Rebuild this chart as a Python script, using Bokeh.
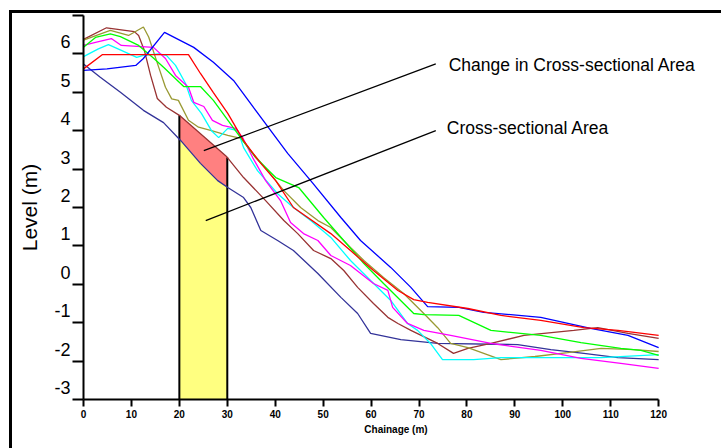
import numpy as np
from bokeh.plotting import figure
from bokeh.models import Range1d, FixedTicker, Label, LinearAxis
from bokeh.embed import file_html
from bokeh.resources import INLINE

# ---------------- data ----------------
x_ticks = [0, 10, 20, 30, 40, 50, 60, 70, 80, 90, 100, 110, 120]
y_ticks = [-3, -2, -1, 0, 1, 2, 3, 4, 5, 6, 7]
y_label_ticks = [-3, -2, -1, 0, 1, 2, 3, 4, 5, 6]
y_label_text = ["-3", "-2", "-1", "0", "1", "2", "3", "4", "5", "6"]

blue_x = [0, 4.9, 10.9, 12.5, 16.9, 23.0, 27.1, 31.3, 35.5, 38.6, 42.6, 47.4, 53.7, 57.8, 64.1, 68.3, 71.8, 78.3, 83.5, 95.4, 105.8, 113.6, 120]
blue_y = [5.57, 5.61, 5.70, 5.88, 6.56, 6.17, 5.78, 5.31, 4.60, 4.08, 3.41, 2.70, 1.74, 1.14, 0.44, -0.08, -0.58, -0.60, -0.73, -0.86, -1.15, -1.33, -1.65]

red_x = [0, 3.9, 21.9, 24.4, 27.1, 30.1, 33.4, 36.5, 40.1, 43.8, 51.6, 55.7, 60.5, 65.6, 68.9, 71.8, 80.2, 87.1, 95.4, 104.4, 111.5, 120]
red_y = [5.61, 5.98, 5.98, 5.49, 4.99, 4.45, 3.74, 3.22, 2.70, 2.00, 1.32, 0.88, 0.36, -0.16, -0.40, -0.47, -0.63, -0.81, -0.94, -1.13, -1.20, -1.33]

green_x = [0, 2.5, 5.6, 7.7, 11.5, 14.4, 16.7, 20.9, 24.4, 27.1, 31.7, 35.9, 40.1, 44.9, 50.1, 54.3, 58.5, 62.6, 68.9, 71.0, 78.3, 85.0, 95.4, 103.8, 112.1, 116.3, 120]
green_y = [6.17, 6.43, 6.52, 6.45, 6.22, 5.91, 5.65, 5.15, 5.15, 4.79, 4.00, 3.30, 2.78, 2.52, 1.74, 1.14, 0.54, 0.02, -0.76, -0.79, -0.81, -1.20, -1.33, -1.52, -1.67, -1.72, -1.85]

magenta_x = [0, 2.5, 5.8, 7.9, 14.6, 17.1, 19.2, 21.9, 23.0, 25.1, 26.9, 29.0, 31.7, 33.2, 35.3, 38.0, 41.1, 43.2, 45.9, 48.9, 51.6, 55.7, 60.5, 63.5, 64.5, 67.6, 71.0, 76.6, 85.0, 95.4, 103.8, 112.1, 120]
magenta_y = [6.22, 6.30, 6.40, 6.22, 6.17, 5.88, 5.44, 5.13, 4.74, 4.63, 4.27, 4.14, 4.06, 3.82, 3.30, 2.70, 2.18, 1.61, 1.32, 1.14, 0.75, 0.49, 0.02, -0.16, -0.60, -1.02, -1.20, -1.33, -1.54, -1.72, -1.93, -2.06, -2.19]

cyan_x = [0, 3.1, 5.2, 7.9, 11.1, 12.5, 15.7, 17.3, 19.2, 21.3, 22.5, 24.6, 26.7, 28.2, 30.1, 32.2, 33.4, 36.3, 40.5, 43.8, 47.4, 51.6, 55.7, 59.9, 64.1, 67.6, 69.7, 72.4, 74.9, 81.4, 87.1, 108.0, 120]
cyan_y = [5.93, 6.13, 6.24, 6.09, 5.91, 5.96, 6.00, 5.96, 5.70, 5.23, 4.79, 4.45, 4.00, 3.82, 4.06, 4.00, 3.56, 2.96, 2.36, 2.00, 1.66, 1.22, 0.62, 0.10, -0.42, -1.02, -1.20, -1.54, -1.96, -1.96, -1.91, -1.91, -1.83]

olive_x = [0, 5.6, 9.4, 12.5, 13.6, 15.7, 17.1, 18.4, 19.8, 21.9, 24.0, 26.7, 30.1, 32.8, 34.9, 38.4, 41.8, 45.3, 48.9, 51.6, 55.7, 58.5, 62.6, 66.8, 71.0, 73.9, 76.6, 80.2, 87.1, 94.2, 101.0, 108.0, 114.8, 120]
olive_y = [6.36, 6.61, 6.48, 6.70, 6.44, 5.65, 5.13, 4.83, 4.79, 4.27, 4.09, 4.00, 3.88, 3.80, 3.48, 2.96, 2.44, 2.00, 1.66, 1.48, 0.96, 0.62, 0.18, -0.24, -0.76, -1.13, -1.54, -1.65, -1.96, -1.88, -1.78, -1.67, -1.70, -1.75]

brown_x = [0, 4.8, 10.6, 11.5, 12.7, 14.0, 15.4, 17.3, 20.0, 29.9, 33.4, 38.0, 41.8, 44.7, 48.0, 51.6, 54.3, 57.2, 60.5, 63.5, 65.6, 68.3, 73.9, 77.2, 80.2, 85.0, 91.9, 102.3, 107.3, 113.6, 120]
brown_y = [6.38, 6.68, 6.58, 6.48, 6.09, 5.44, 4.84, 4.61, 4.40, 3.32, 2.78, 2.18, 1.66, 1.32, 0.88, 0.67, 0.36, -0.08, -0.50, -0.86, -1.02, -1.20, -1.54, -1.80, -1.67, -1.54, -1.33, -1.20, -1.13, -1.28, -1.41]

navy_x = [0, 3.5, 7.7, 12.5, 16.7, 20.3, 24.4, 28.0, 30.1, 33.4, 34.9, 37.0, 40.5, 43.8, 48.9, 53.7, 57.2, 59.9, 66.2, 73.9, 90.6, 97.5, 104.4, 111.5, 120]
navy_y = [5.74, 5.39, 5.00, 4.53, 4.21, 3.74, 3.15, 2.70, 2.52, 2.26, 2.00, 1.40, 1.14, 0.88, 0.28, -0.34, -0.76, -1.28, -1.44, -1.54, -1.57, -1.70, -1.80, -1.91, -1.96]

section_from, section_to = 20, 30
label_change = "Change in Cross-sectional Area"
label_area = "Cross-sectional Area"

# ---------------- figure ----------------
X_END = 130.4          # frame extends beyond 120 so the callout texts fit
LBL_SHIFT = 0.3125     # y tick labels sit ~12px above their ticks (as in the reference)

p = figure(frame_width=625, frame_height=384,
           x_range=Range1d(0, X_END), y_range=Range1d(-3, 7),
           output_backend="svg", toolbar_location=None,
           min_border_left=71, min_border_top=2, min_border_right=13, min_border_bottom=49,
           background_fill_color="white", border_fill_color="white")
p.styles = {"border-left": "3px solid black", "border-top": "3px solid black",
            "margin-left": "9px", "margin-top": "10px"}
p.outline_line_color = None
p.grid.visible = False
p.extra_y_ranges = {"lbl": Range1d(-3 - LBL_SHIFT, 7 - LBL_SHIFT)}

# fills (cross-section and change)
xs = sorted(set([section_from, section_to] +
                [v for v in navy_x + brown_x if section_from < v < section_to]))
xs = np.array(xs, dtype=float)
navy_i = np.interp(xs, navy_x, navy_y)
brown_i = np.interp(xs, brown_x, brown_y)
p.varea(x=xs, y1=-3, y2=navy_i, fill_color="#FFFF80")
p.varea(x=xs, y1=navy_i, y2=brown_i, fill_color="#FF8080")
p.segment(x0=[section_from, section_to], y0=[-3, -3],
          x1=[section_from, section_to],
          y1=[float(np.interp(section_from, brown_x, brown_y)), float(np.interp(section_to, brown_x, brown_y))],
          line_color="black", line_width=2)

lw = 1.3
p.line(navy_x, navy_y, line_color="#333399", line_width=lw)
p.line(brown_x, brown_y, line_color="#993333", line_width=lw)
p.line(olive_x, olive_y, line_color="#999933", line_width=lw)
p.line(cyan_x, cyan_y, line_color="#00FFFF", line_width=lw)
p.line(magenta_x, magenta_y, line_color="#FF00FF", line_width=lw)
p.line(green_x, green_y, line_color="#00FF00", line_width=lw)
p.line(blue_x, blue_y, line_color="#0000FF", line_width=lw)
p.line(red_x, red_y, line_color="#FF0000", line_width=lw)

# annotation pointers
p.segment(x0=[25.1, 25.5], y0=[3.48, 1.66], x1=[73.5, 73.5], y1=[5.74, 4.0],
          line_color="black", line_width=1.3)
for txt, tx, ty in [(label_change, 76.2, 5.70), (label_area, 75.8, 4.06)]:
    p.add_layout(Label(x=tx, y=ty, text=txt, text_font="Liberation Sans",
                       text_font_size="17.5px", text_baseline="middle",
                       text_align="left", text_color="black"))

# x axis
xa = p.xaxis[0]
xa.bounds = (0, 120)
xa.ticker = FixedTicker(ticks=x_ticks)
xa.axis_label = "Chainage (m)"
xa.axis_label_text_font = "Liberation Sans"
xa.axis_label_text_font_size = "10px"
xa.axis_label_text_font_style = "bold"
xa.axis_label_text_color = "black"
xa.axis_label_standoff = 3
xa.major_label_text_font = "Liberation Sans"
xa.major_label_text_font_size = "10px"
xa.major_label_text_font_style = "bold"
xa.major_label_text_color = "black"
xa.major_label_standoff = 3
xa.major_tick_out = 7
xa.major_tick_in = 0
xa.minor_tick_line_color = None
xa.axis_line_width = 2
xa.major_tick_line_width = 2

# y axis: ticks and line only
ya = p.yaxis[0]
ya.ticker = FixedTicker(ticks=y_ticks)
ya.major_label_overrides = {t: "" for t in y_ticks}
ya.major_label_standoff = 0
ya.major_tick_out = 11
ya.major_tick_in = 0
ya.minor_tick_line_color = None
ya.axis_line_width = 2
ya.major_tick_line_width = 2

# y axis labels, drawn slightly above their ticks
yl = LinearAxis(y_range_name="lbl", ticker=FixedTicker(ticks=y_label_ticks))
yl.major_label_overrides = dict(zip(y_label_ticks, y_label_text))
yl.axis_line_color = None
yl.major_tick_line_color = None
yl.minor_tick_line_color = None
yl.major_tick_out = 0
yl.major_tick_in = 0
yl.major_label_standoff = 2
yl.major_label_text_font = "Liberation Sans"
yl.major_label_text_font_size = "18px"
yl.major_label_text_color = "black"
yl.axis_label = "Level (m)"
yl.axis_label_text_font = "Liberation Sans"
yl.axis_label_text_font_size = "21px"
yl.axis_label_text_font_style = "normal"
yl.axis_label_text_color = "black"
yl.axis_label_standoff = 10
p.add_layout(yl, "left")

open("out.html", "w").write(file_html(p, INLINE))
